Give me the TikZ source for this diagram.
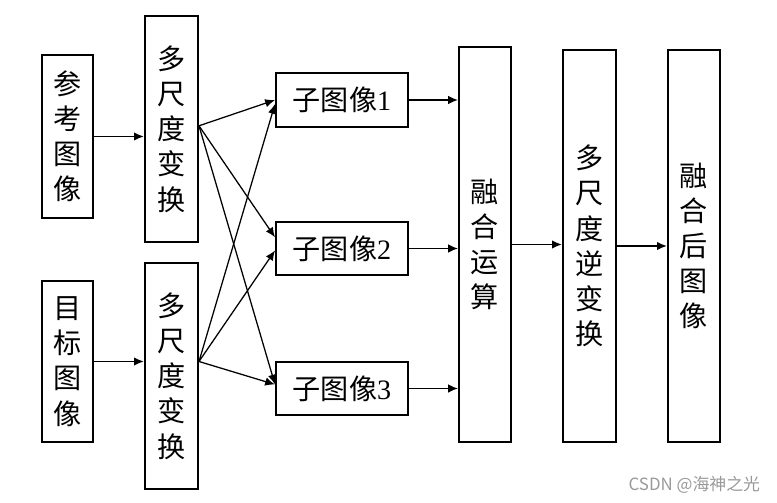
\documentclass[tikz,border=0pt]{standalone}
\usepackage{fontspec}
\setmainfont{Liberation Serif}
\newfontfamily\cjk{Noto Sans CJK SC}
\usetikzlibrary{arrows,arrows.meta,positioning}
\tikzset{%
	vbox/.style  = {draw, line width=1.4pt, rectangle, align=center, inner sep=0pt, font=\cjk\fontsize{20}{25}\selectfont},
	hbox/.style  = {draw, line width=1.4pt, rectangle, inner sep=0pt, minimum width=3.3cm, minimum height=1.33cm, font=\cjk\fontsize{20}{25}\selectfont},
	arrow/.style = {line width=1.2pt,-{Latex[length=7pt,width=6pt]}},
	thinarrow/.style = {line width=0.9pt,-{Latex[length=7pt,width=6pt]}},
}
\begin{document}
\begin{tikzpicture}[x=0.025cm,y=-0.025cm]
	\useasboundingbox (0,0) rectangle (777,503);

	% inputs and forward transforms
	\node[vbox, minimum width=1.275cm, minimum height=4.075cm] (ref) at (67.5,136.5) {参\\考\\图\\像};
	\node[vbox, minimum width=1.275cm, minimum height=4.025cm] (tgt) at (67.5,361.5) {目\\标\\图\\像};
	\node[vbox, minimum width=1.325cm, minimum height=5.65cm] (msA) at (171.5,129) {多\\尺\\度\\变\\换};
	\node[vbox, minimum width=1.325cm, minimum height=5.65cm] (msB) at (171.5,376) {多\\尺\\度\\变\\换};

	% sub images
	\node[hbox] (sub1) at (342,100) {子图像{\rmfamily 1}};
	\node[hbox] (sub2) at (342,248.5) {子图像{\rmfamily 2}};
	\node[hbox] (sub3) at (342,388.5) {子图像{\rmfamily 3}};

	% fusion and inverse transform
	\node[vbox, minimum width=1.3cm, minimum height=9.875cm] (fuse) at (485,244.5) {融\\合\\运\\算};
	\node[vbox, minimum width=1.325cm, minimum height=9.8cm] (inv) at (589.5,246) {多\\尺\\度\\逆\\变\\换};
	\node[vbox, minimum width=1.3cm, minimum height=9.8cm] (fused) at (694,246) {融\\合\\后\\图\\像};

	\coordinate (oA) at ([yshift=0.08cm]msA.east);
	\coordinate (oB) at (msB.east |- tgt.east);

	\draw[arrow] (ref) -- (msA.west |- ref.east);
	\draw[arrow] (tgt) -- (msB.west |- tgt.east);

	\draw[thinarrow] (oA) -- (sub1.west);
	\draw[thinarrow] (oA) -- ([yshift=0.28cm]sub2.west);
	\draw[thinarrow] (oA) -- ([yshift=0.1cm]sub3.west);
	\draw[thinarrow] (oB) -- ([yshift=-0.1cm]sub1.west);
	\draw[thinarrow] (oB) -- ([yshift=-0.05cm]sub2.west);
	\draw[thinarrow] (oB) -- ([yshift=0.1cm]sub3.west);

	\draw[thinarrow] (sub1) -- (fuse.west |- sub1);
	\draw[thinarrow] (sub2) -- (fuse.west |- sub2);
	\draw[thinarrow] (sub3) -- (fuse.west |- sub3);
	\draw[arrow] (fuse.east) -- (inv.west |- fuse.east);
	\draw[arrow] (inv.east) -- (fused.west |- inv.east);

	\node[text=black!40, font=\cjk\fontsize{12}{14}\selectfont, anchor=east] (mark) at (765,485) {CSDN @海神之光};
\end{tikzpicture}
\end{document}
